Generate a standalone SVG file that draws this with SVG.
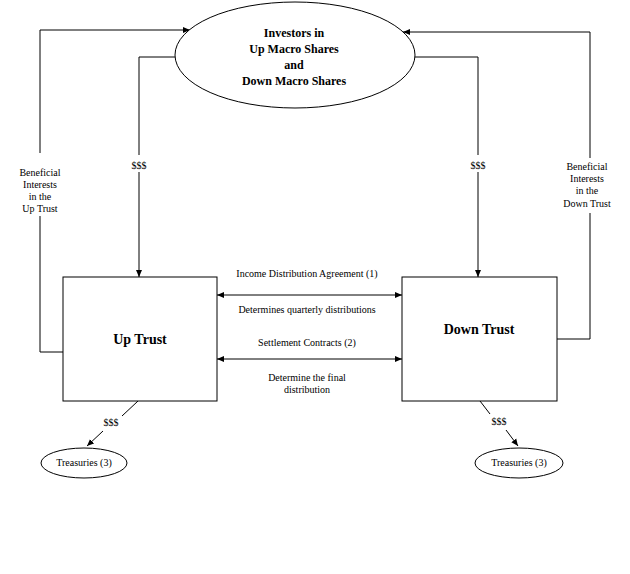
<svg xmlns="http://www.w3.org/2000/svg" width="630" height="574" viewBox="0 0 630 574">
<style>
.s{fill:none;stroke:#000;stroke-width:1}
.n{fill:#fff;stroke:#000;stroke-width:1}
.t{font-family:"Liberation Serif",serif;font-size:10px;fill:#000;text-anchor:middle}
.b{font-family:"Liberation Serif",serif;font-weight:bold;font-size:12px;fill:#000;text-anchor:middle}
.bt{font-family:"Liberation Serif",serif;font-weight:bold;font-size:14px;fill:#000;text-anchor:middle}
</style>
<defs>
<marker id="a" markerWidth="8" markerHeight="8" refX="7" refY="4" orient="auto" markerUnits="userSpaceOnUse">
<path d="M0,1 L7,4 L0,7 Z" fill="#000"/>
</marker>
<marker id="as" markerWidth="8" markerHeight="8" refX="1" refY="4" orient="auto" markerUnits="userSpaceOnUse">
<path d="M8,1 L1,4 L8,7 Z" fill="#000"/>
</marker>
</defs>
<rect width="630" height="574" fill="#fff"/>
<g id="connectors">
<polyline class="s" points="63,352 40,352 40,30 190,30" marker-end="url(#a)"/>
<polyline class="s" points="557,339 590,339 590,32 403,32" marker-end="url(#a)"/>
<polyline class="s" points="175,57 139,57 139,155"/>
<line class="s" x1="139" y1="172" x2="139" y2="277" marker-end="url(#a)"/>
<polyline class="s" points="415,57 478,57 478,155"/>
<line class="s" x1="478" y1="172" x2="478" y2="277" marker-end="url(#a)"/>
<line class="s" x1="217" y1="295" x2="402" y2="295" marker-start="url(#as)" marker-end="url(#a)"/>
<line class="s" x1="217" y1="359" x2="402" y2="359" marker-start="url(#as)" marker-end="url(#a)"/>
<line class="s" x1="138" y1="401" x2="122" y2="416"/>
<line class="s" x1="103" y1="431" x2="87" y2="446" marker-end="url(#a)"/>
<line class="s" x1="480" y1="401" x2="490" y2="414"/>
<line class="s" x1="506" y1="430" x2="518" y2="446" marker-end="url(#a)"/>
<g fill="#fff">
<rect x="18" y="153" width="44" height="63"/>
<rect x="560" y="158" width="56" height="55"/>
</g>
<text class="t" x="40" y="176">Beneficial</text>
<text class="t" x="40" y="188">Interests</text>
<text class="t" x="40" y="200">in the</text>
<text class="t" x="40" y="212">Up Trust</text>
<text class="t" x="587" y="170">Beneficial</text>
<text class="t" x="587" y="182">Interests</text>
<text class="t" x="587" y="194">in the</text>
<text class="t" x="587" y="207">Down Trust</text>
<text class="t" x="139" y="169">$$$</text>
<text class="t" x="478" y="169">$$$</text>
<text class="t" x="307" y="277">Income Distribution Agreement (1)</text>
<text class="t" x="307" y="313">Determines quarterly distributions</text>
<text class="t" x="307" y="346">Settlement Contracts (2)</text>
<text class="t" x="307" y="381">Determine the final</text>
<text class="t" x="307" y="393">distribution</text>
<text class="t" x="111" y="426">$$$</text>
<text class="t" x="499" y="425">$$$</text>
</g>
<g id="investors">
<ellipse class="n" cx="295" cy="55" rx="120" ry="53"/>
<text class="b" x="294" y="37">Investors in</text>
<text class="b" x="294" y="53">Up  Macro Shares</text>
<text class="b" x="294" y="69">and</text>
<text class="b" x="294" y="85">Down Macro Shares</text>
</g>
<g id="up-trust">
<rect class="n" x="63" y="277" width="154" height="124"/>
<text class="bt" x="140" y="344">Up  Trust</text>
</g>
<g id="down-trust">
<rect class="n" x="402" y="277" width="155" height="124"/>
<text class="bt" x="479" y="334">Down Trust</text>
</g>
<g id="treasuries-up">
<ellipse class="n" cx="84" cy="463" rx="43" ry="15"/>
<text class="t" x="84" y="466">Treasuries (3)</text>
</g>
<g id="treasuries-down">
<ellipse class="n" cx="519" cy="463" rx="44" ry="15"/>
<text class="t" x="519" y="466">Treasuries (3)</text>
</g>
</svg>
